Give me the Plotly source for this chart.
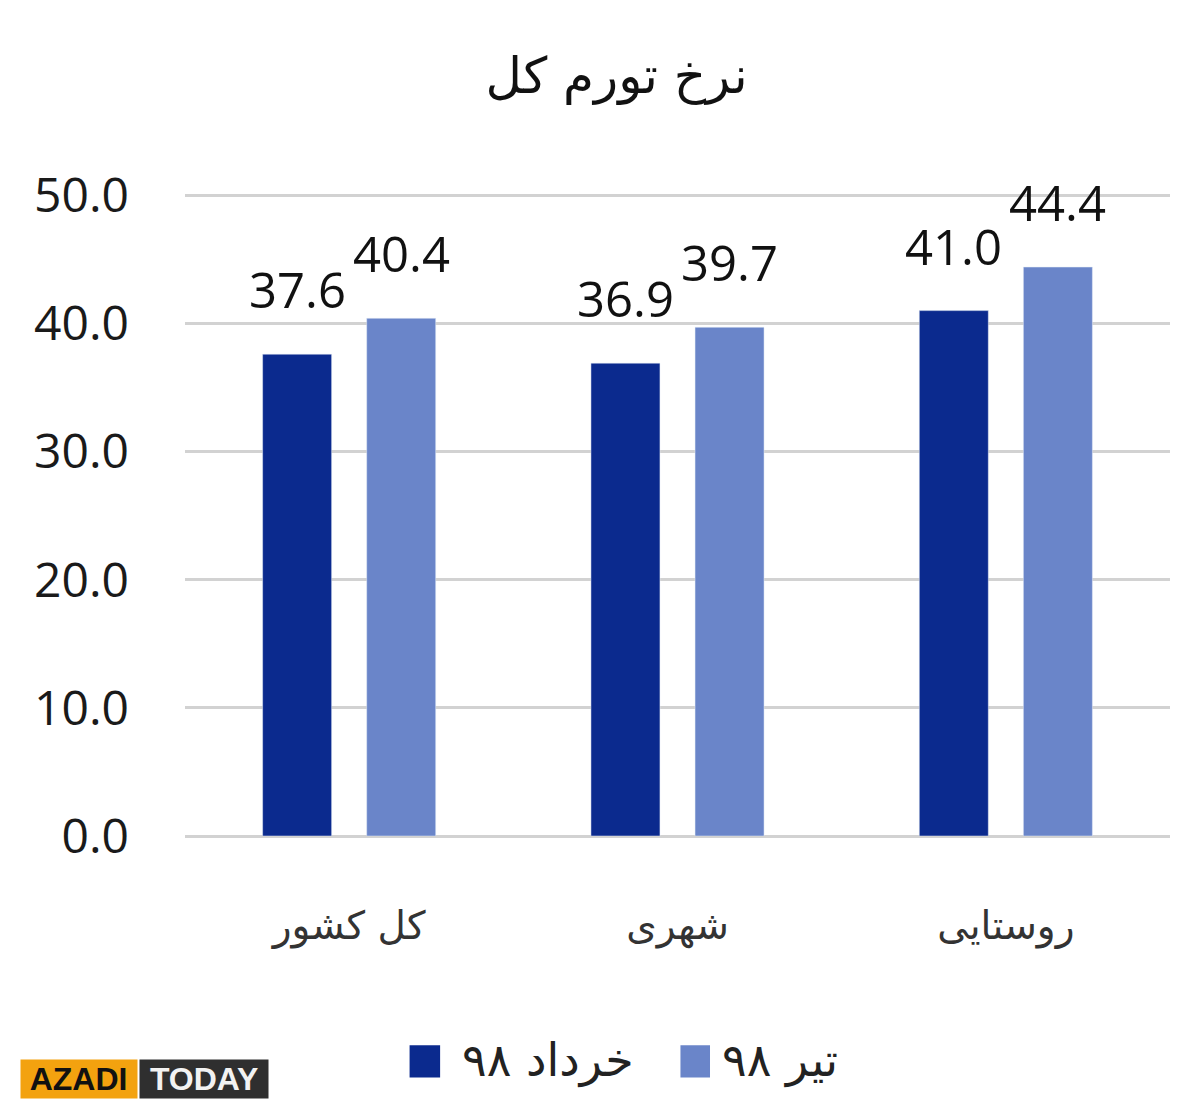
import plotly.graph_objects as go

categories = ["کل کشور", "شهری", "روستایی"]
series_names = ["خرداد ۹۸", "تیر ۹۸"]
khordad = [37.6, 36.9, 41.0]
tir = [40.4, 39.7, 44.4]
y_ticks = [0, 10, 20, 30, 40, 50]
title_text = "نرخ تورم کل"

colors = ["#0b2a8e", "#6a85c9"]
num_font = "Open Sans, Noto Sans, sans-serif"
fa_font = "DejaVu Sans, sans-serif"

fig = go.Figure()
for name, vals, col in zip(series_names, [khordad, tir], colors):
    fig.add_trace(go.Bar(x=categories, y=vals, name=name, marker_color=col,
                         showlegend=False, hoverinfo="x+y"))

# value labels above bars
offsets = [-52, 52]
for vals, xs in zip([khordad, tir], offsets):
    for c, v in zip(categories, vals):
        fig.add_annotation(x=c, y=v, xref="x", yref="y", text=f"{v:.1f}",
                           showarrow=False, xshift=xs, yshift=30, yanchor="bottom",
                           font=dict(family=num_font, size=49, color="#111"))

# manual legend
leg = [(0.228, 0.259, 0.279, series_names[0], colors[0]),
       (0.503, 0.533, 0.543, series_names[1], colors[1])]
for x0, x1, xt, name, col in leg:
    fig.add_shape(type="rect", xref="paper", yref="paper", x0=x0, x1=x1,
                  y0=-0.376, y1=-0.326, fillcolor=col, line_width=0)
    fig.add_annotation(xref="paper", yref="paper", x=xt, y=-0.349, text=name,
                       showarrow=False, xanchor="left", yanchor="middle",
                       font=dict(family=fa_font, size=46, color="#222"))

# watermark
wm_font = "Liberation Sans Narrow, Liberation Sans, sans-serif"
fig.add_annotation(xref="paper", yref="paper", x=-0.1675, y=-0.379, text="<b> AZADI </b>",
                   showarrow=False, xanchor="left", yanchor="middle", bgcolor="#f3a20f",
                   font=dict(family=wm_font, size=32, color="#111"), borderpad=1)
fig.add_annotation(xref="paper", yref="paper", x=-0.0467, y=-0.379, text="<b> TODAY </b>",
                   showarrow=False, xanchor="left", yanchor="middle", bgcolor="#2f2f2f",
                   font=dict(family=wm_font, size=32, color="#f2f2f2"), borderpad=1)

fig.update_layout(
    width=1184, height=1100,
    margin=dict(l=177, r=22, t=186, b=272),
    paper_bgcolor="white", plot_bgcolor="white",
    barmode="group", bargap=0.366, bargroupgap=0.337,
    title=dict(text=title_text, x=0.514, xanchor="center", y=1 - 67 / 1100,
               yanchor="middle", yref="container",
               font=dict(family=fa_font, size=50, color="#111")),
    xaxis=dict(showgrid=False, showline=False, ticks="", ticklabelstandoff=63,
               tickfont=dict(family=fa_font, size=39, color="#333")),
    yaxis=dict(range=[0, 50.1], tickvals=y_ticks, tickformat=".1f",
               showgrid=True, gridcolor="#d2d2d2", gridwidth=3,
               zeroline=True, zerolinecolor="#d2d2d2", zerolinewidth=3,
               showline=False, ticks="", ticklabelstandoff=55,
               tickfont=dict(family=num_font, size=48, color="#1a1a1a")),
)

fig.write_html("out.html")
